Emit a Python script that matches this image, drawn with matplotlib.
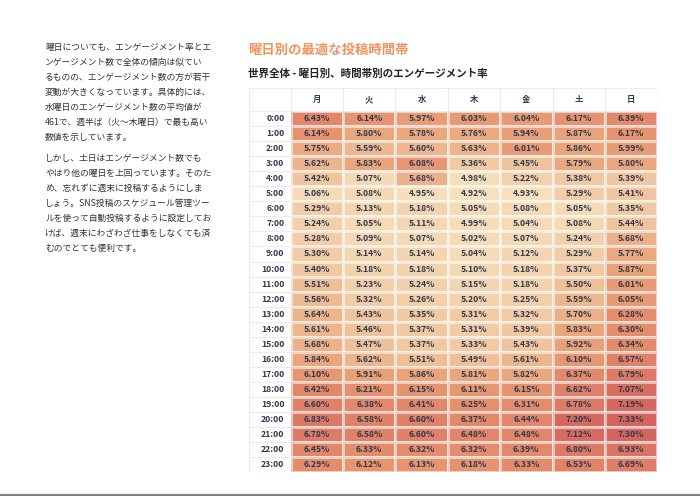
import numpy as np
import matplotlib
matplotlib.use("Agg")
import matplotlib.pyplot as plt
from matplotlib.colors import LinearSegmentedColormap
from matplotlib.lines import Line2D

plt.rcParams['font.family'] = ['Noto Sans CJK JP', 'DejaVu Sans']

# データ
days = ["月", "火", "水", "木", "金", "土", "日"]
hours = [f"{h}:00" for h in range(24)]
rates = np.array([
    [6.43, 6.14, 5.97, 6.03, 6.04, 6.17, 6.39],
    [6.14, 5.80, 5.78, 5.76, 5.94, 5.87, 6.17],
    [5.75, 5.59, 5.60, 5.63, 6.01, 5.86, 5.99],
    [5.62, 5.83, 6.08, 5.36, 5.45, 5.79, 5.80],
    [5.42, 5.07, 5.68, 4.98, 5.22, 5.38, 5.39],
    [5.06, 5.08, 4.95, 4.92, 4.93, 5.29, 5.41],
    [5.29, 5.13, 5.18, 5.05, 5.08, 5.05, 5.35],
    [5.24, 5.05, 5.11, 4.99, 5.04, 5.08, 5.44],
    [5.28, 5.09, 5.07, 5.02, 5.07, 5.24, 5.68],
    [5.30, 5.14, 5.14, 5.04, 5.12, 5.29, 5.77],
    [5.40, 5.18, 5.18, 5.10, 5.18, 5.37, 5.87],
    [5.51, 5.23, 5.24, 5.15, 5.18, 5.50, 6.01],
    [5.56, 5.32, 5.26, 5.20, 5.25, 5.59, 6.05],
    [5.64, 5.43, 5.35, 5.31, 5.32, 5.70, 6.28],
    [5.61, 5.46, 5.37, 5.31, 5.39, 5.83, 6.30],
    [5.68, 5.47, 5.37, 5.33, 5.43, 5.92, 6.34],
    [5.84, 5.62, 5.51, 5.49, 5.61, 6.10, 6.57],
    [6.10, 5.91, 5.86, 5.81, 5.82, 6.37, 6.79],
    [6.42, 6.21, 6.15, 6.11, 6.15, 6.62, 7.07],
    [6.60, 6.38, 6.41, 6.25, 6.31, 6.78, 7.19],
    [6.83, 6.58, 6.60, 6.37, 6.44, 7.20, 7.33],
    [6.78, 6.58, 6.60, 6.48, 6.48, 7.12, 7.30],
    [6.45, 6.33, 6.32, 6.32, 6.39, 6.80, 6.93],
    [6.29, 6.12, 6.13, 6.18, 6.33, 6.53, 6.69],
])

paragraph1 = [
    "曜日についても、エンゲージメント率とエ",
    "ンゲージメント数で全体の傾向は似てい",
    "るものの、エンゲージメント数の方が若干",
    "変動が大きくなっています。具体的には、",
    "水曜日のエンゲージメント数の平均値が",
    "461で、週半ば（火〜木曜日）で最も高い",
    "数値を示しています。",
]
paragraph2 = [
    "しかし、土日はエンゲージメント数でも",
    "やはり他の曜日を上回っています。そのた",
    "め、忘れずに週末に投稿するようにしま",
    "しょう。SNS投稿のスケジュール管理ツー",
    "ルを使って自動投稿するように設定してお",
    "けば、週末にわざわざ仕事をしなくても済",
    "むのでとても便利です。",
]

title = "曜日別の最適な投稿時間帯"
subtitle = "世界全体 - 曜日別、時間帯別のエンゲージメント率"

W, H = 700, 496
fig = plt.figure(figsize=(W / 100, H / 100), dpi=100)
fig.patch.set_facecolor("white")

text_col = "#333333"
cell_text = "#2f3a4e"

# 左の説明文
for i, line in enumerate(paragraph1):
    fig.text(45 / W, 1 - (47.5 + i * 15) / H, line, fontsize=6.3,
             color=text_col, va="center", ha="left")
for i, line in enumerate(paragraph2):
    fig.text(45 / W, 1 - (158.5 + i * 15) / H, line, fontsize=6.3,
             color=text_col, va="center", ha="left")

fig.text(248 / W, 1 - 49.5 / H, title, fontsize=9.6, fontweight="bold",
         color="#f0935e", va="center", ha="left")
fig.text(248 / W, 1 - 73.5 / H, subtitle, fontsize=7.6, fontweight="bold",
         color="#222222", va="center", ha="left")

# テーブル（ヒートマップ）
row_h = 15.05
col_w = 52.37
label_w = 41.7 / col_w
head_h = 22.7 / row_h
left_px, top_px = 249, 88.3
tbl_w = 41.7 + 7 * col_w
tbl_h = 22.7 + 24 * row_h
ax = fig.add_axes([left_px / W, 1 - (top_px + tbl_h) / H, tbl_w / W, tbl_h / H])
ax.set_xlim(-label_w, 7)
ax.set_ylim(24, -head_h)
ax.axis("off")

cmap = LinearSegmentedColormap.from_list(
    "eng", [(0, "#f6e1be"), (0.2, "#f0c6a0"), (0.37, "#eaa67c"),
            (0.5, "#e69570"), (0.62, "#e3876a"), (0.78, "#dd7a66"),
            (0.9, "#d86c62"), (1, "#d4645e")])
ax.pcolormesh(np.arange(8), np.arange(25), rates, cmap=cmap,
              vmin=4.92, vmax=7.33, edgecolors=(1, 1, 1, 0.55), linewidth=0.8)

grid_col = "#ececec"
# ヘッダーとラベル列の罫線
ax.vlines(np.arange(0, 8), -head_h, 0, color=grid_col, lw=0.8)
ax.hlines(np.arange(0, 25), -label_w, 0, color=grid_col, lw=0.8)
ax.hlines([-head_h, 0], -label_w, 7, color=grid_col, lw=0.8)
ax.vlines([-label_w], -head_h, 24, color=grid_col, lw=0.8)
ax.vlines([7], -head_h, 0, color=grid_col, lw=0.8)

for j, d in enumerate(days):
    ax.text(j + 0.5, -head_h / 2, d, ha="center", va="center", fontsize=6,
            fontweight="bold", color=cell_text)
for i, h in enumerate(hours):
    ax.text(-0.12, i + 0.5, h, ha="right", va="center", fontsize=6.2,
            fontweight="bold", color=cell_text)
    for j in range(7):
        ax.text(j + 0.5, i + 0.5, f"{rates[i, j]:.2f}%", ha="center",
                va="center", fontsize=6.2, fontweight="bold", color=cell_text)

# 下部の区切り線
fig.add_artist(Line2D([0, 1], [1 - 495 / H, 1 - 495 / H], color="#808080",
                      lw=1.5, transform=fig.transFigure))

fig.savefig("out.png", dpi=100)
